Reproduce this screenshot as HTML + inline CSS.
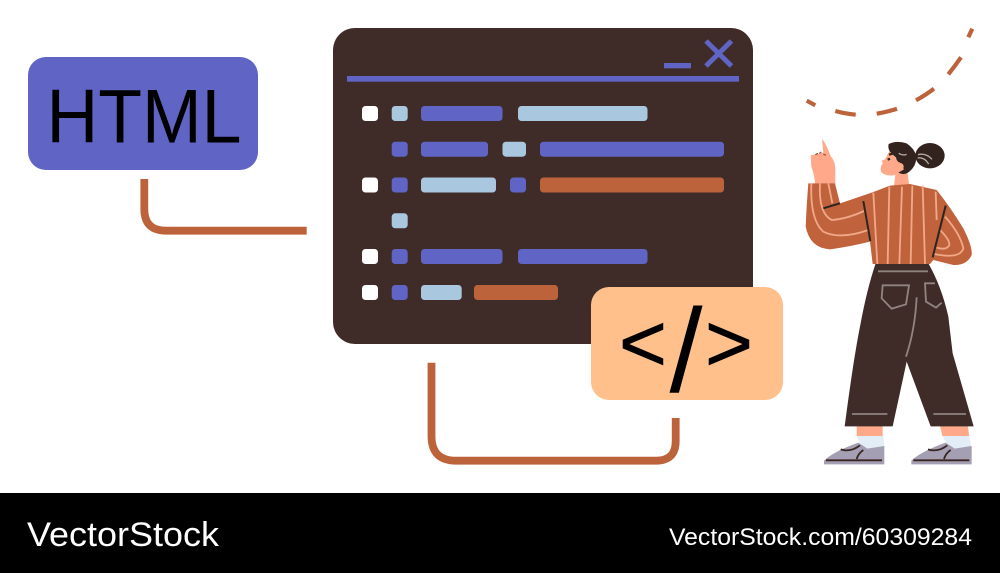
<!DOCTYPE html>
<html><head><meta charset="utf-8"><style>
html,body{margin:0;padding:0;background:#fff;width:1000px;height:573px;overflow:hidden}
svg{display:block}
text{font-family:"Liberation Sans",sans-serif}
</style></head><body>
<svg width="1000" height="573" viewBox="0 0 1000 573" xmlns="http://www.w3.org/2000/svg">
<rect width="1000" height="573" fill="#fff"/>
<!-- connectors -->
<g fill="none" stroke="#bd633c" stroke-width="7.8">
<path d="M144.3 179V209Q144.3 230.7 166 230.7H306.7"/>
<path d="M431.5 362.7V436Q431.5 460.7 456 460.7H656Q675.7 460.7 675.7 441V418"/>
</g>
<!-- HTML -->
<rect x="28" y="57" width="230" height="113" rx="18" fill="#6064c4"/>
<text x="46.5" y="142.3" font-size="76" textLength="195" lengthAdjust="spacingAndGlyphs" fill="#000">HTML</text>
<!-- window -->
<rect x="333" y="28" width="420" height="316" rx="22" fill="#3f2b27"/>
<rect x="347" y="76" width="392" height="5.7" fill="#6064c4"/>
<rect x="664" y="63" width="27" height="5.3" fill="#6064c4"/>
<path d="M706 41L731.5 66M731.5 41L706 66" stroke="#6064c4" stroke-width="5" fill="none"/>
<g fill="#fff">
<rect x="362" y="106" width="16" height="15" rx="3.5"/>
<rect x="362" y="177.5" width="16" height="15" rx="3.5"/>
<rect x="362" y="249" width="16" height="15" rx="3.5"/>
<rect x="362" y="285" width="16" height="15" rx="3.5"/>
</g>
<g fill="#a9c8e0">
<rect x="391.7" y="106" width="16" height="15" rx="3.5"/>
<rect x="518" y="106" width="129.5" height="15" rx="3.5"/>
<rect x="502.5" y="141.7" width="23.5" height="15" rx="3.5"/>
<rect x="421" y="177.5" width="75" height="15" rx="3.5"/>
<rect x="391.7" y="213.3" width="16" height="15" rx="3.5"/>
<rect x="421" y="285" width="40.7" height="15" rx="3.5"/>
</g>
<g fill="#6064c4">
<rect x="421" y="106" width="81.5" height="15" rx="3.5"/>
<rect x="391.7" y="141.7" width="16" height="15" rx="3.5"/>
<rect x="421" y="141.7" width="67" height="15" rx="3.5"/>
<rect x="540" y="141.7" width="184" height="15" rx="3.5"/>
<rect x="391.7" y="177.5" width="16" height="15" rx="3.5"/>
<rect x="510" y="177.5" width="16" height="15" rx="3.5"/>
<rect x="391.7" y="249" width="16" height="15" rx="3.5"/>
<rect x="421" y="249" width="81.5" height="15" rx="3.5"/>
<rect x="518" y="249" width="129.5" height="15" rx="3.5"/>
<rect x="391.7" y="285" width="16" height="15" rx="3.5"/>
</g>
<g fill="#bd633c">
<rect x="540" y="177.5" width="184" height="15" rx="3.5"/>
<rect x="474" y="285" width="84" height="15" rx="3.5"/>
</g>
<!-- code box -->
<rect x="591" y="287" width="192" height="113" rx="18" fill="#ffc08c"/>
<text fill="#000"><tspan x="619" y="371" font-size="82" stroke="#000" stroke-width=".7">&lt;</tspan><tspan x="669.5" y="391.5" font-size="119">/</tspan><tspan x="705" y="371" font-size="82" stroke="#000" stroke-width=".7">&gt;</tspan></text>
<!-- dashed arc -->
<g fill="none" stroke="#bd633c" stroke-width="4.2">
<path d="M806.7 100.7L815.3 105.3"/>
<path d="M835.3 111Q845 113.7 855.7 114.7"/>
<path d="M876.7 113.7Q887 112 897 108.7"/>
<path d="M916 100.3Q925 95.5 934 88.7"/>
<path d="M948.3 74.3Q955 66 961 57.3"/>
<path d="M968.3 37.3L972.3 28.7"/>
</g>
<!-- legs -->
<g transform="translate(810 260) scale(.33333)">
<path d="M140 490H218V530H140ZM388 490H472L478 530H398Z" fill="#ffa98a"/>
<path d="M140 528H220L223 565L160 575ZM398 528H478L484 565L420 575Z" fill="#e3edf5"/>
<g fill="#a49fb2">
<path d="M42 602Q70 575 145 548L172 566L223 558V613H42Z"/>
<path d="M304 602Q332 575 407 548L434 566L485 558V613H304Z"/>
</g>
<g fill="none" stroke="#3a2522" stroke-width="5.5">
<path d="M48 601H216M92 568Q122 578 150 556M140 597Q145 580 160 570"/>
<path d="M310 601H478M354 568Q384 578 412 556M402 597Q407 580 422 570"/>
</g>
<path d="M197 10H355Q395 80 415 170L428 280L491 499H362L290 305L248 499H104Q130 300 150 200Q170 90 197 10Z" fill="#3f2b27"/>
<g fill="none" stroke="#8f8480" stroke-width="5.5">
<path d="M204 34H354"/>
<path d="M218 76H297L288 133L245 146L215 115Z"/>
<path d="M375 70H345L348 125L378 143L395 128"/>
<path d="M320 112Q315 210 288 290"/>
<path d="M126 462H232M370 462H468"/>
</g>
</g>
<!-- upper body -->
<g transform="translate(790 120) scale(.33333)">
<path d="M96 58Q104 62 122 108Q136 125 136 145V195H76Q72 160 64 140L62 106L100 98Z" fill="#ffa98a"/>
<path d="M76 104L84 100M88 100L94 96M100 102L108 106" stroke="#8a5340" stroke-width="3.5" fill="none"/>
<path d="M300 90L285 118L275 122L278 130Q268 145 275 158Q290 170 316 165L312 198H358L352 155L345 100Z" fill="#ffa98a"/>
<ellipse cx="420" cy="107" rx="44" ry="38" fill="#33231f"/>
<path d="M296 72Q320 60 350 70Q372 85 378 105Q382 135 358 155Q342 168 325 158L342 148L330 128Q320 125 318 112Q308 105 300 95Q293 85 296 72Z" fill="#33231f"/>
<path d="M297 104L315 99M293 119L300 116" stroke="#33231f" stroke-width="7" fill="none"/>
<path d="M383 114Q402 110 416 132M384 104Q408 98 426 118M326 100Q338 108 350 103" stroke="#b5a8a3" stroke-width="4" fill="none"/>
<ellipse cx="331" cy="140" rx="10" ry="11" fill="#ffa98a"/>
<path d="M55 190H135L150 250L245 218L300 197L360 192L440 210Q480 260 520 325Q548 380 545 405Q530 437 490 435L430 420L420 432H248L240 365Q180 380 120 388Q60 385 47 320Q50 250 55 190Z" fill="#c0623c"/>
<g fill="none" stroke="#f0a888" stroke-width="5.5">
<path d="M250 218L262 432M298 200L293 432M336 200L328 432M367 197L362 432M398 197L405 432M437 215L440 300"/>
<path d="M64 190Q60 300 100 335Q150 360 235 330"/>
<path d="M90 190Q85 280 125 300Q170 297 222 273"/>
<path d="M115 190L127 250"/>
<path d="M465 290Q510 340 520 385Q510 418 432 402"/>
<path d="M450 330Q480 360 478 375Q470 392 440 383"/>
</g>
<path d="M100 265L150 250M220 243L241 363M467 257L428 412" stroke="#2d2421" stroke-width="6" fill="none"/>
</g>
<!-- footer -->
<rect x="0" y="493" width="1000" height="80" fill="#000"/>
<text x="27" y="546" font-size="34" textLength="192" lengthAdjust="spacingAndGlyphs" fill="#fff">VectorStock</text>
<text x="669" y="545" font-size="24" textLength="303" lengthAdjust="spacingAndGlyphs" fill="#fff">VectorStock.com/60309284</text>
</svg>
</body></html>
